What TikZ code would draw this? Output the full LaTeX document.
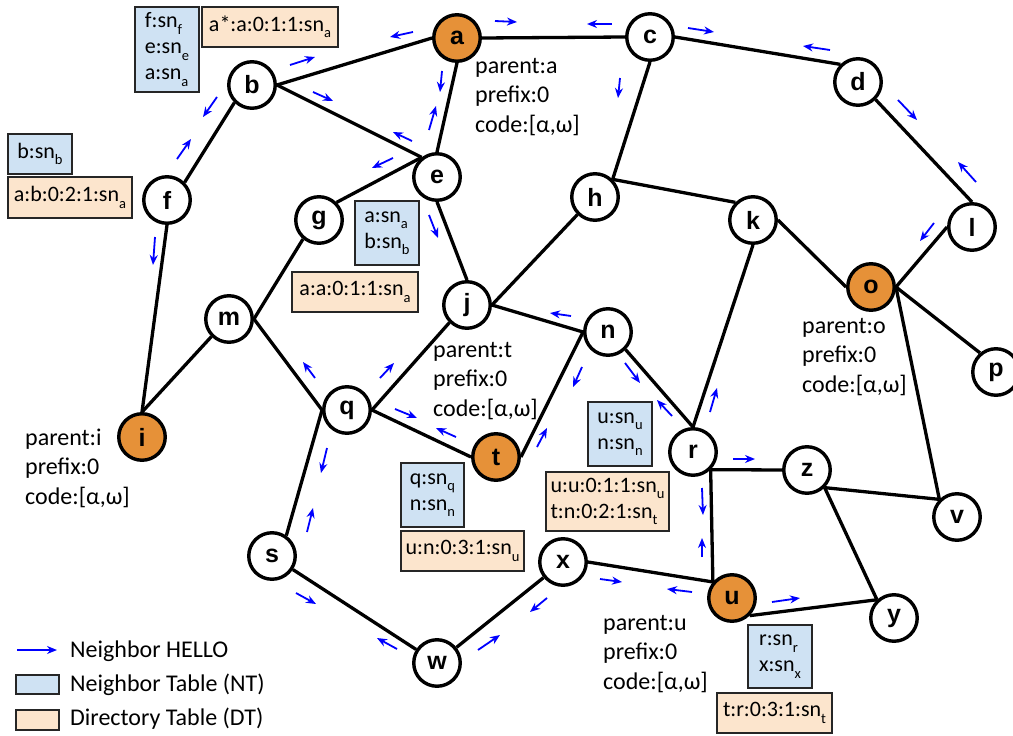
\documentclass[tikz,border=0pt]{standalone}
\usepackage{fontspec}
\setmainfont{Carlito}
\newfontfamily\lblfont{Liberation Sans}
\usetikzlibrary{arrows.meta}
\definecolor{hub}{RGB}{230,145,56}
\definecolor{ntfill}{RGB}{207,226,243}
\definecolor{dtfill}{RGB}{252,229,205}
\definecolor{hellobl}{RGB}{0,0,255}
% sequence number with a lowered, smaller index
\newcommand\sn[1]{sn\raisebox{-0.6ex}{\fontsize{14.5}{14.5}\selectfont #1}}

\begin{document}
\begin{tikzpicture}[x=1pt,y=-1pt,
  vtx/.style={circle,draw=black,line width=3.4pt,fill=white,minimum size=46.5pt,
              inner sep=0pt,font=\lblfont\bfseries\fontsize{25}{25}\selectfont},
  root/.style={vtx,fill=hub},
  link/.style={line width=3.3pt,black},
  msg/.style={hellobl,line width=1.8pt,-{Stealth[length=10pt,width=8pt]}},
  tbl/.style={draw=black!85,line width=1.6pt,inner sep=0pt,align=left,
              font=\fontsize{22}{26}\selectfont},
  nt/.style={tbl,fill=ntfill},
  dt/.style={tbl,fill=dtfill},
  info/.style={anchor=west,inner sep=0pt,align=left,font=\fontsize{24}{29.5}\selectfont},
  keytext/.style={anchor=west,inner sep=0pt,font=\fontsize{24}{24}\selectfont}]

\path[use as bounding box] (0,0) rectangle (1013,736);

% ---------- vertices ----------
\node[root] (a) at (457,38)  {a};
\node[vtx]  (b) at (252,85)  {b};
\node[vtx]  (c) at (650,37)  {c};
\node[vtx]  (d) at (858,82)  {d};
\node[vtx]  (e) at (437,177) {e};
\node[vtx]  (f) at (167,200) {f};
\node[vtx]  (g) at (319,220) {g};
\node[vtx]  (h) at (595,197) {h};
\node[vtx]  (k) at (753,220) {k};
\node[vtx]  (l) at (972,227) {l};
\node[vtx]  (m) at (229,319) {m};
\node[vtx]  (j) at (467,305) {j};
\node[vtx]  (n) at (608,332) {n};
\node[root] (o) at (871,287) {o};
\node[vtx]  (p) at (996,372) {p};
\node[vtx]  (q) at (347,410) {q};
\node[root] (i) at (142,437) {i};
\node[root] (t) at (496,457) {t};
\node[vtx]  (r) at (693,452) {r};
\node[vtx]  (z) at (807,470) {z};
\node[vtx]  (v) at (957,517) {v};
\node[vtx]  (s) at (272,556) {s};
\node[vtx]  (x) at (563,562) {x};
\node[root] (u) at (732,598) {u};
\node[vtx]  (y) at (894,618) {y};
\node[vtx]  (w) at (437,663) {w};

% ---------- links ----------
\draw[link] (a.east) -- (c.west);
\draw[link] (a.west) -- (b.east);
\draw[link] (a.south) -- (e.north);
\draw[link] (b.east) -- (e.128);
\draw[link] (b.225) -- (f.45);
\draw[link] (c.east) -- (d.135);
\draw[link] (c.south) -- (h.45);
\draw[link] (d.-45) -- (l.north);
\draw[link] (l.west) -- (o.east);
\draw[link] (g.45) -- (e.128);
\draw[link] (e.south) -- (j.north);
\draw[link] (h.45) -- (k.135);
\draw[link] (h.225) -- (j.east);
\draw[link] (k.east) -- (o.west);
\draw[link] (o.east) -- (p.130);
\draw[link] (o.east) -- (v.135);
\draw[link] (f.south) -- (i.north);
\draw[link] (i.north) -- (m.225);
\draw[link] (m.east) -- (g.230);
\draw[link] (m.east) -- (q.west);
\draw[link] (q.west) -- (s.55);
\draw[link] (q.east) -- (j.225);
\draw[link] (q.east) -- (t.west);
\draw[link] (t.east) -- (n.west);
\draw[link] (n.west) -- (j.east);
\draw[link] (n.-45) -- (r.north);
\draw[link] (r.north) -- (k.south);
\draw[link] (r.-45) -- (z.west);
\draw[link] (r.-45) -- (u.140);
\draw[link] (x.east) -- (u.140);
\draw[link] (u.-45) -- (y.133);
\draw[link] (z.-45) -- (y.133);
\draw[link] (z.-45) -- (v.135);
\draw[link] (x) -- (w);
\draw[link] (w) -- (s);

% ---------- HELLO messages ----------
\foreach \xa/\ya/\xb/\yb in {
  290/65/315/57, 313/92/333/101, 217/97/203/117, 177/159/191/139,
  155/237/153/265, 495/21/517/22, 612/24/587/24, 413/32/390/37,
  442/71/440/92, 429/130/436/106, 620/78/618/98, 412/141/393/132,
  393/158/372/168, 429/215/438/238, 571/316/550/313, 380/378/394/363,
  395/409/417/418, 456/437/436/428, 582/367/573/387, 537/447/547/428,
  625/363/640/383, 672/416/657/400, 710/412/717/388, 733/459/755/459,
  702/488/703/515, 702/557/702/538, 600/579/622/582, 692/592/667/589,
  772/602/800/598, 327/448/321/473, 307/532/313/508, 296/593/316/604,
  397/649/377/638, 478/650/500/635, 547/598/530/612, 315/378/303/362,
  688/28/714/32, 830/50/803/46, 898/100/917/120, 976/182/958/162,
  934/223/920/241}
  \draw[msg] (\xa,\ya) -- (\xb,\yb);

% ---------- neighbor and directory tables ----------
\node[nt,minimum width=64pt,minimum height=85pt] (ntb) at (167,49.5) {f:\sn{f}\\e:\sn{e}\\a:\sn{a}};
\node[dt,minimum width=136pt,minimum height=40pt] (dtb) at (270,27) {a*:a:0:1:1:\sn{a}};
\node[nt,minimum width=64pt,minimum height=40pt] (ntf) at (40,154) {b:\sn{b}};
\node[dt,minimum width=124pt,minimum height=41pt] (dtf) at (70,197.5) {a:b:0:2:1:\sn{a}};
\node[nt,minimum width=64pt,minimum height=64pt] (nte) at (387,233) {a:\sn{a}\\b:\sn{b}};
\node[dt,minimum width=126pt,minimum height=40pt] (dte) at (355,292) {a:a:0:1:1:\sn{a}};
\node[nt,minimum width=63pt,minimum height=64pt] (ntt) at (432.5,495) {q:\sn{q}\\n:\sn{n}};
\node[dt,minimum width=123pt,minimum height=40pt] (dtt) at (462.5,551) {u:n:0:3:1:\sn{u}};
\node[nt,minimum width=64pt,minimum height=64pt] (ntr) at (620,434) {u:\sn{u}\\n:\sn{n}};
\node[dt,minimum width=123pt,minimum height=59pt] (dtr) at (607.5,501.5) {u:u:0:1:1:\sn{u}\\t:n:0:2:1:\sn{t}};
\node[nt,minimum width=64pt,minimum height=63pt] (ntu) at (780,656.5) {r:\sn{r}\\x:\sn{x}};
\node[dt,minimum width=115pt,minimum height=40pt] (dtu) at (774.5,713) {t:r:0:3:1:\sn{t}};

% ---------- root state ----------
\node[info] (infa) at (475,97)  {parent:a\\prefix:0\\code:[α,ω]};
\node[info] (inft) at (433,381) {parent:t\\prefix:0\\code:[α,ω]};
\node[info] (infi) at (25,468)  {parent:i\\prefix:0\\code:[α,ω]};
\node[info] (info) at (802,357) {parent:o\\prefix:0\\code:[α,ω]};
\node[info] (infu) at (603,654) {parent:u\\prefix:0\\code:[α,ω]};

% ---------- legend ----------
\coordinate (keyA) at (17,650);
\coordinate (keyB) at (57,650);
\draw[msg] (keyA) -- (keyB);
\node[keytext] (keyhello) at (70,651) {Neighbor HELLO};
\node[nt,minimum width=43pt,minimum height=19pt] (keynt) at (37.5,684.5) {};
\node[keytext] (keynttext) at (70,685) {Neighbor Table (NT)};
\node[dt,minimum width=43pt,minimum height=20pt] (keydt) at (37.5,720) {};
\node[keytext] (keydttext) at (70,719) {Directory Table (DT)};
\end{tikzpicture}
\end{document}
